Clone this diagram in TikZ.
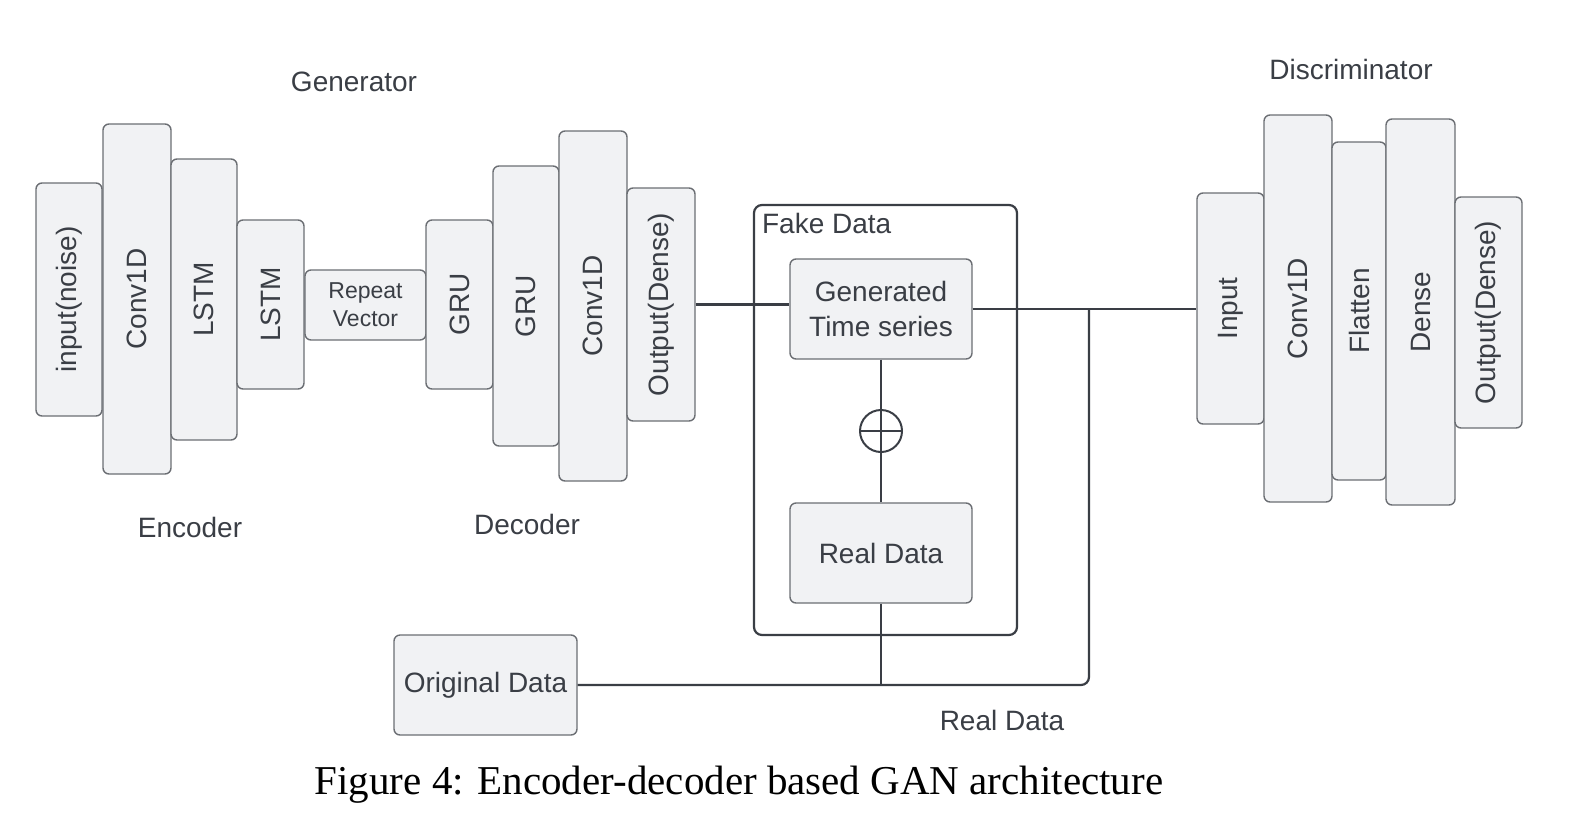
\documentclass[tikz,border=0pt]{standalone}
\usepackage{fontspec}
\setmainfont{Liberation Sans}
\newfontfamily\capfont{Liberation Serif}
\definecolor{boxfill}{HTML}{F1F2F4}
\definecolor{boxline}{HTML}{6B6E73}
\definecolor{ink}{HTML}{3A3E45}
\tikzset{
  layer/.style={draw=boxline, fill=boxfill, rounded corners=6pt, line width=1.4pt, inner sep=0pt, text=ink, font=\fontsize{28}{30}\selectfont},
  lbl/.style={text=ink, inner sep=0pt, font=\fontsize{28}{30}\selectfont},
  wire/.style={draw=ink, line width=2.2pt}
}
\begin{document}
\begin{tikzpicture}[x=1pt,y=-1pt]
  \useasboundingbox (0,0) rectangle (1586,822);
  % generator: encoder
  \node[layer, minimum width=66pt, minimum height=233pt] (noise) at (69,299.5) {\rotatebox{90}{input(noise)}};
  \node[layer, minimum width=68pt, minimum height=350pt] (econv) at (137,299) {\rotatebox{90}{Conv1D}};
  \node[layer, minimum width=66pt, minimum height=281pt] (lstma) at (204,299.5) {\rotatebox{90}{LSTM}};
  \node[layer, minimum width=67pt, minimum height=169pt] (lstmb) at (270.5,304.5) {\rotatebox{90}{LSTM}};
  \node[layer, minimum width=121pt, minimum height=70pt, align=center, font=\fontsize{23}{28}\selectfont] (rep) at (365.5,305) {Repeat\\Vector};
  % generator: decoder
  \node[layer, minimum width=67pt, minimum height=169pt] (grua) at (459.5,304.5) {\rotatebox{90}{GRU}};
  \node[layer, minimum width=66pt, minimum height=280pt] (grub) at (526,306) {\rotatebox{90}{GRU}};
  \node[layer, minimum width=68pt, minimum height=350pt] (dconv) at (593,306) {\rotatebox{90}{Conv1D}};
  \node[layer, minimum width=68pt, minimum height=233pt] (gout) at (661,304.5) {\rotatebox{90}{Output(Dense)}};
  \node[lbl] (gentitle) at (354,82) {Generator};
  \node[lbl] (enc) at (190,527) {Encoder};
  \node[lbl] (dec) at (527,524) {Decoder};
  % fake data block
  \node[draw=ink, line width=2.2pt, rounded corners=8pt, minimum width=263pt, minimum height=430pt] (fake) at (885.5,420) {};
  \node[lbl, anchor=west] (fakelbl) at ([xshift=9pt,yshift=-20pt]fake.north west) {Fake Data};
  \node[layer, minimum width=182pt, minimum height=100pt, align=center, font=\fontsize{28}{35}\selectfont] (gen) at (881,309) {Generated\\Time series};
  \node[layer, minimum width=182pt, minimum height=100pt] (real) at (881,553) {Real Data};
  \node[draw=ink, line width=2pt, circle, minimum size=42pt, inner sep=0pt] (plus) at (881,431) {};
  \node[layer, minimum width=183pt, minimum height=100pt] (orig) at (485.5,685) {Original Data};
  % discriminator
  \node[layer, minimum width=67pt, minimum height=231pt] (dinp) at (1230.5,308.5) {\rotatebox{90}{Input}};
  \node[layer, minimum width=68pt, minimum height=387pt] (cconv) at (1298,308.5) {\rotatebox{90}{Conv1D}};
  \node[layer, minimum width=54pt, minimum height=338pt] (flat) at (1359,311) {\rotatebox{90}{Flatten}};
  \node[layer, minimum width=69pt, minimum height=386pt] (dense) at (1420.5,312) {\rotatebox{90}{Dense}};
  \node[layer, minimum width=67pt, minimum height=231pt] (dout) at (1488.5,312.5) {\rotatebox{90}{Output(Dense)}};
  \node[lbl] (distitle) at (1351,69) {Discriminator};
  % wires
  \coordinate (jn) at (1089,309);
  \draw[wire] (gout.east) -- (gout.east -| gen.west);
  \draw[wire] (gen.east) -- (gen.east -| dinp.west);
  \draw[wire] (gen.south) -- (real.north);
  \draw[wire] (plus.west) -- (plus.east);
  \draw[wire] (real.south) -- (real.south |- orig.east);
  \draw[wire, rounded corners=8pt] (orig.east) -- (orig.east -| jn) -- (jn);
  \node[lbl] (reallbl) at (1002,720) {Real Data};
  \node[inner sep=0pt, font=\capfont\fontsize{41}{45}\selectfont] (cap) at (739,785) {Figure 4: Encoder-decoder based GAN architecture};
\end{tikzpicture}
\end{document}
